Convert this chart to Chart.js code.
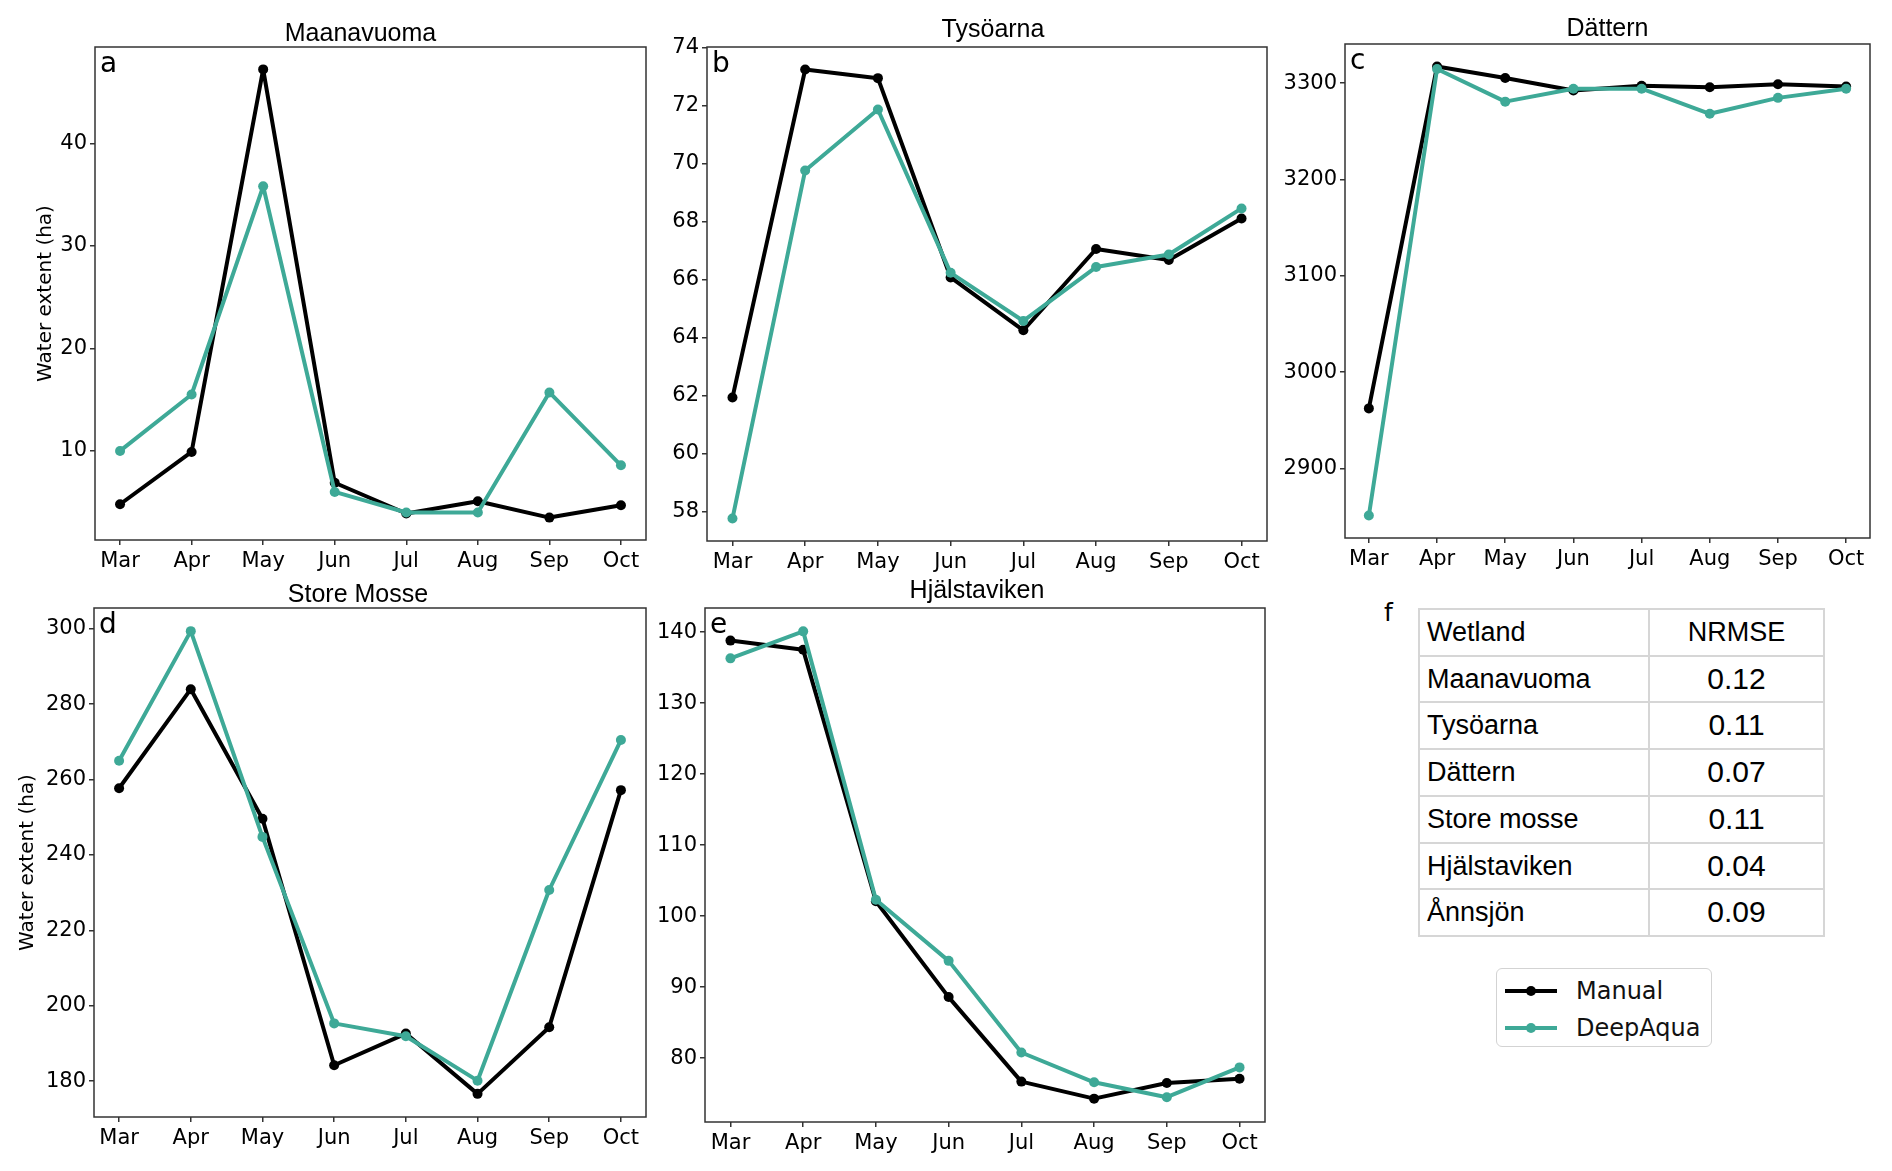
<!DOCTYPE html>
<html><head><meta charset="utf-8">
<script src="https://cdn.jsdelivr.net/npm/chart.js@4/dist/chart.umd.min.js"></script>
<style>
html,body{margin:0;padding:0;background:#fff;}
body{width:1892px;height:1171px;position:relative;overflow:hidden;font-family:"DejaVu Sans",sans-serif;}
canvas{position:absolute;}
#tbl{position:absolute;left:1418px;top:608px;border-collapse:collapse;font-family:"Liberation Sans",Arial,sans-serif;color:#000;}
#tbl td{border:2px solid #d6d6d6;padding:0 0 0 7px;font-size:27px;height:44.7px;line-height:44.7px;}
#tbl td.v{text-align:center;font-size:30px;padding:0;}
#tbl td.h{text-align:center;font-size:27px;padding:0;}
#flabel{position:absolute;left:1384px;top:598px;font-size:25px;font-family:"DejaVu Sans";}
#legend{position:absolute;left:1496px;top:968px;width:216px;height:79px;border:1.5px solid #d3d3d3;border-radius:6px;box-sizing:border-box;font-family:"DejaVu Sans";font-size:24px;color:#111;}
.lrow{position:absolute;left:6px;height:30px;display:flex;align-items:center;}
.lrow span{margin-left:17px;}
</style>
</head><body>
<div id="flabel">f</div>
<table id="tbl"></table>
<div id="legend"></div>
<script>
// ---------------- data ----------------
const months = ['Mar','Apr','May','Jun','Jul','Aug','Sep','Oct'];

const maanavuomaManual   = [4.8, 9.9, 47.2, 6.9, 3.9, 5.1, 3.5, 4.7];
const maanavuomaDeepAqua = [10.0, 15.5, 35.8, 6.0, 4.0, 4.0, 15.7, 8.6];

const tysoarnaManual   = [61.94, 73.25, 72.95, 66.08, 64.26, 67.06, 66.68, 68.11];
const tysoarnaDeepAqua = [57.77, 69.77, 71.87, 66.24, 64.58, 66.44, 66.87, 68.46];

const datternManual   = [2962.5, 3317.3, 3305.4, 3292.3, 3297.3, 3295.8, 3298.8, 3296.5];
const datternDeepAqua = [2851.3, 3314.6, 3280.8, 3294.2, 3294.2, 3268.2, 3284.7, 3294.2];

const storeMosseManual   = [257.7, 284.0, 249.6, 184.2, 192.6, 176.6, 194.3, 257.2];
const storeMosseDeepAqua = [265.0, 299.4, 244.8, 195.3, 191.9, 180.1, 230.7, 270.5];

const hjalstavikenManual   = [138.8, 137.5, 102.1, 88.6, 76.7, 74.3, 76.5, 77.1];
const hjalstavikenDeepAqua = [136.3, 140.1, 102.3, 93.7, 80.8, 76.6, 74.5, 78.7];

const ticksA = [10, 20, 30, 40];
const ticksB = [58, 60, 62, 64, 66, 68, 70, 72, 74];
const ticksC = [2900, 3000, 3100, 3200, 3300];
const ticksD = [180, 200, 220, 240, 260, 280, 300];
const ticksE = [80, 90, 100, 110, 120, 130, 140];

const tableWetlands = ['Maanavuoma', 'Tysöarna', 'Dättern', 'Store mosse', 'Hjälstaviken', 'Ånnsjön'];
const tableNRMSE = ['0.12', '0.11', '0.07', '0.11', '0.04', '0.09'];

const seriesNames = ['Manual', 'DeepAqua'];
const colManual = '#000000';
const colDeep = '#3EA997';

// ---------------- layout ----------------
const panels = [
  {title:'Maanavuoma',  letter:'a', man:maanavuomaManual,   deep:maanavuomaDeepAqua,   ticks:ticksA, L:95,   T:47,  R:648,  B:540,  yw:65, ytitle:true,  tdx:-10, tdy:13},
  {title:'Tysöarna',    letter:'b', man:tysoarnaManual,     deep:tysoarnaDeepAqua,     ticks:ticksB, L:707,  T:47,  R:1269, B:541,  yw:70, ytitle:false, tdx:6,   tdy:17},
  {title:'Dättern',     letter:'c', man:datternManual,      deep:datternDeepAqua,      ticks:ticksC, L:1345, T:44,  R:1872, B:538,  yw:75, ytitle:false, tdx:0,   tdy:15},
  {title:'Store Mosse', letter:'d', man:storeMosseManual,   deep:storeMosseDeepAqua,   ticks:ticksD, L:94,   T:608, R:648,  B:1117, yw:82, ytitle:true,  tdx:-12, tdy:13},
  {title:'Hjälstaviken',letter:'e', man:hjalstavikenManual, deep:hjalstavikenDeepAqua, ticks:ticksE, L:705,  T:608, R:1267, B:1122, yw:70, ytitle:false, tdx:-8,  tdy:17},
];
const TITLE_H = 36, XH = 42, RP = 3;

Chart.defaults.font.family = '"DejaVu Sans", sans-serif';
Chart.defaults.color = '#000';

const framePlugin = {
  id: 'frame',
  afterDatasetsDraw(chart, args, opts) {
    const {ctx, chartArea: {left, top, right, bottom}} = chart;
    ctx.save();
    ctx.strokeStyle = '#333';
    ctx.lineWidth = 1.5;
    ctx.strokeRect(left, top, right - left, bottom - top);
    ctx.fillStyle = '#000';
    ctx.font = '28px "DejaVu Sans"';
    ctx.textBaseline = 'alphabetic';
    ctx.textAlign = 'left';
    ctx.fillText(opts.letter, left + 5, top + 25);
    ctx.font = '25px "Liberation Sans", Arial, sans-serif';
    ctx.textAlign = 'center';
    ctx.textBaseline = 'middle';
    ctx.fillText(opts.title, (left + right) / 2 + opts.tdx, top - opts.tdy);
    ctx.restore();
  }
};

function autoRange(a, b) {
  const all = a.concat(b);
  const mn = Math.min(...all), mx = Math.max(...all);
  const m = (mx - mn) * 0.05;
  return [mn - m, mx + m];
}

panels.forEach((p) => {
  const cv = document.createElement('canvas');
  const w = p.yw + (p.R - p.L) + RP;
  const h = TITLE_H + (p.B - p.T) + XH;
  cv.width = w; cv.height = h;
  cv.style.width = w + 'px'; cv.style.height = h + 'px';
  cv.style.left = (p.L - p.yw) + 'px';
  cv.style.top = (p.T - TITLE_H) + 'px';
  document.body.appendChild(cv);
  const [ymin, ymax] = autoRange(p.man, p.deep);
  const mk = (arr) => arr.map((v, i) => ({x: i, y: v}));
  const ds = (label, arr, col, order) => ({
    label, data: mk(arr), borderColor: col, backgroundColor: col, pointBackgroundColor: col,
    borderWidth: 4, pointRadius: 5, pointBorderWidth: 0, order, tension: 0,
    borderJoinStyle: 'round', borderCapStyle: 'round'
  });
  new Chart(cv.getContext('2d'), {
    type: 'line',
    data: {
      datasets: [
        ds(seriesNames[0], p.man, colManual, 1),
        ds(seriesNames[1], p.deep, colDeep, 0)
      ]
    },
    options: {
      responsive: false, animation: false, devicePixelRatio: 1,
      layout: {padding: {left: 0, top: TITLE_H, bottom: 0, right: RP}},
      plugins: {
        legend: {display: false}, tooltip: {enabled: false}, title: {display: false},
        frame: {letter: p.letter, title: p.title, tdx: p.tdx, tdy: p.tdy}
      },
      scales: {
        x: {
          type: 'linear', min: -0.35, max: 7.35,
          afterBuildTicks: (s) => { s.ticks = months.map((m, i) => ({value: i})); },
          afterFit: (s) => { s.height = XH; },
          ticks: {callback: (v) => months[v], autoSkip: false, maxRotation: 0, padding: 4,
                  font: {size: 21}, color: '#000'},
          grid: {display: true, drawOnChartArea: false, drawTicks: true, tickLength: 5, color: '#333', lineWidth: 1.5},
          border: {display: false}
        },
        y: {
          type: 'linear', min: ymin, max: ymax,
          afterBuildTicks: (s) => { s.ticks = p.ticks.map(v => ({value: v})); },
          afterFit: (s) => { s.width = p.yw; },
          ticks: {padding: 3, font: {size: 21}, color: '#000', callback: (v) => String(v)},
          grid: {display: true, drawOnChartArea: false, drawTicks: true, tickLength: 5, color: '#333', lineWidth: 1.5},
          border: {display: false},
          title: {display: p.ytitle, text: 'Water extent (ha)', font: {size: 20}, color: '#000', padding: {top: 4, bottom: 4}}
        }
      }
    },
    plugins: [framePlugin]
  });
});

// ---------------- table ----------------
const tbl = document.getElementById('tbl');
let html = '<colgroup><col style="width:230px"><col style="width:175px"></colgroup>';
html += '<tr><td>Wetland</td><td class="h">NRMSE</td></tr>';
tableWetlands.forEach((n, i) => { html += '<tr><td>' + n + '</td><td class="v">' + tableNRMSE[i] + '</td></tr>'; });
tbl.innerHTML = html;

// ---------------- legend ----------------
const lg = document.getElementById('legend');
[[seriesNames[0], colManual, 7], [seriesNames[1], colDeep, 44]].forEach(([name, col, top]) => {
  const r = document.createElement('div');
  r.className = 'lrow';
  r.style.top = top + 'px';
  r.innerHTML = '<svg width="56" height="30"><line x1="2" y1="15" x2="54" y2="15" stroke="' + col + '" stroke-width="4"/><circle cx="28" cy="15" r="5" fill="' + col + '"/></svg><span>' + name + '</span>';
  lg.appendChild(r);
});
</script>
</body></html>
